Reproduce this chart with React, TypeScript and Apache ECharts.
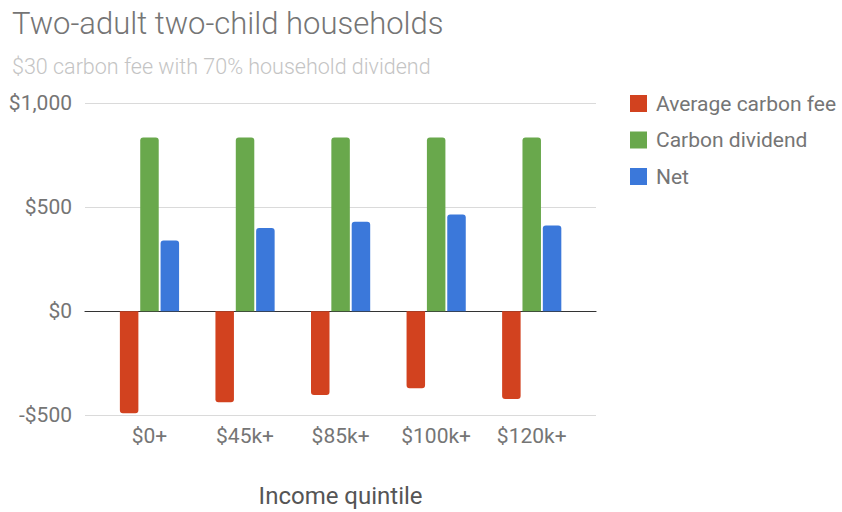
import React, { useEffect, useRef } from "react";
import * as echarts from "echarts";

const categories = ["$0+", "$45k+", "$85k+", "$100k+", "$120k+"];
const seriesNames = ["Average carbon fee", "Carbon dividend", "Net"];
const carbonFee = [-490, -437, -402, -370, -422];
const carbonDividend = [835, 835, 835, 835, 835];
const netValues = [340, 400, 430, 465, 413];
const yTicks = [-500, 0, 500, 1000];

const fmt = (v: number) => {
  const s = Math.abs(v).toLocaleString("en-US");
  return (v < 0 ? "-$" : "$") + s;
};

export default function App() {
  const ref = useRef<HTMLDivElement>(null);
  useEffect(() => {
    if (!ref.current) return;
    const chart = echarts.init(ref.current, undefined, { renderer: "svg" });
    const font = "Roboto, 'Noto Sans', sans-serif";
    const gray = "#757575";
    const yMin = yTicks[0];
    const yMax = yTicks[yTicks.length - 1];
    chart.setOption({
      animation: false,
      textStyle: { fontFamily: font },
      title: [
        {
          text: "Two-adult two-child households",
          left: 7,
          top: 3,
          textStyle: { fontSize: 31, fontWeight: 300, color: gray, fontFamily: font },
        },
        {
          text: "$30 carbon fee with 70% household dividend",
          left: 7,
          top: 50,
          textStyle: { fontSize: 21.5, fontWeight: 300, color: "#c4c4c4", fontFamily: font },
        },
      ],
      legend: {
        orient: "vertical",
        left: 625,
        top: 88,
        itemWidth: 17,
        itemHeight: 17,
        itemGap: 15.5,
        icon: "rect",
        data: seriesNames,
        textStyle: { fontSize: 21, color: gray, fontFamily: font, padding: [0, 0, 0, 4] },
      },
      grid: [
        { left: 85, right: 246, top: 103.3, bottom: 96.7, outerBoundsMode: "none", containLabel: false },
        { left: 101.7, right: 262.5, top: 103.3, bottom: 96.7, outerBoundsMode: "none", containLabel: false },
      ],
      xAxis: [
        {
          type: "category",
          gridIndex: 0,
          data: categories,
          axisLine: { show: true, onZero: true, lineStyle: { color: "#333", width: 1.2 } },
          axisTick: { show: false },
          axisLabel: { show: false },
        },
        {
          type: "category",
          gridIndex: 1,
          data: categories,
          axisLine: { show: false },
          axisTick: { show: false },
          axisLabel: { fontSize: 21, color: gray, margin: 10, fontFamily: font },
          name: "Income quintile",
          nameLocation: "middle",
          nameGap: 69,
          nameTextStyle: { fontSize: 24, color: "#555", fontFamily: font },
        },
      ],
      yAxis: [
        {
          type: "value",
          gridIndex: 0,
          min: yMin,
          max: yMax,
          interval: 500,
          axisLine: { show: false },
          axisTick: { show: false },
          splitLine: { lineStyle: { color: "#dadada", width: 1.2 } },
          axisLabel: { fontSize: 21, color: gray, margin: 13, formatter: fmt, fontFamily: font },
        },
        {
          type: "value",
          gridIndex: 1,
          min: yMin,
          max: yMax,
          interval: 500,
          show: false,
          splitLine: { show: false },
        },
      ],
      series: [
        {
          name: seriesNames[0],
          type: "bar",
          xAxisIndex: 1,
          yAxisIndex: 1,
          data: carbonFee,
          barWidth: 18.5,
          barGap: "10%",
          itemStyle: { color: "#d2421f", borderRadius: [0, 0, 3, 3] },
        },
        {
          name: seriesNames[1],
          type: "bar",
          xAxisIndex: 1,
          yAxisIndex: 1,
          data: carbonDividend,
          barWidth: 18.5,
          barGap: "10%",
          itemStyle: { color: "#69a84c", borderRadius: [3, 3, 0, 0] },
        },
        {
          name: seriesNames[2],
          type: "bar",
          xAxisIndex: 1,
          yAxisIndex: 1,
          data: netValues,
          barWidth: 18.5,
          barGap: "10%",
          itemStyle: { color: "#3b78da", borderRadius: [3, 3, 0, 0] },
        },
      ],
    });
    return () => chart.dispose();
  }, []);
  return <div ref={ref} style={{ width: 842, height: 512, position: "absolute", left: 0, top: 0 }} />;
}
